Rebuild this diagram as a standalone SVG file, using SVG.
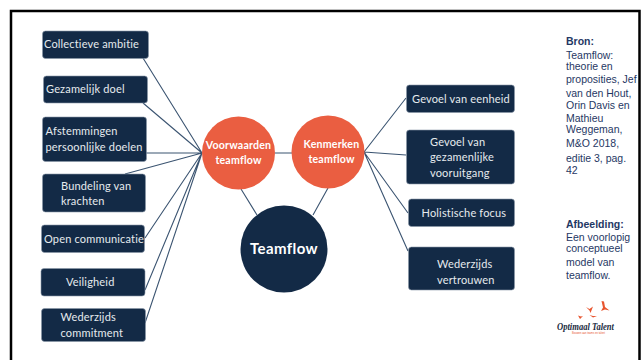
<svg xmlns="http://www.w3.org/2000/svg" width="641" height="360" viewBox="0 0 641 360">
<style>
.box{fill:#132a46;stroke:#8a97a8;stroke-width:.6}
.t{font-family:Lato,"Open Sans",sans-serif;font-size:11px;fill:#e6eaee;letter-spacing:.17px}
.c{font-family:Lato,"Open Sans",sans-serif;font-size:10.6px;font-weight:700;fill:#fff;text-anchor:middle;letter-spacing:.2px}
.l{stroke:#3b5471;stroke-width:1.1;fill:none}
.s{font-family:"Liberation Sans",Arial,sans-serif;font-size:10.500px;fill:#1f3864}
.b{font-weight:700}
</style>
<rect width="641" height="360" fill="#fff"/>
<path d="M11 360V11H639.500V360" fill="none" stroke="#000" stroke-width="2.500"/>
<g id="connectors" class="l">
<path d="M143 58L202 153M143 103L202 153M146 153H202L125 174M145 238L202 153M145 290L202 153M145 323L202 153"/>
<path d="M275 153H292M241 189L257 215M328 188L313 215"/>
<path d="M364 152L406 98M364 152L406 155M364 152L408 213M364 152L408 251"/>
</g>
<g id="n1"><rect class="box" x="42.500" y="31" width="106" height="27.500" rx="3"/><text class="t" x="44" y="48">Collectieve ambitie</text></g>
<g id="n2"><rect class="box" x="43.500" y="76" width="104" height="27" rx="3"/><text class="t" x="46" y="93">Gezamelijk doel</text></g>
<g id="n3"><rect class="box" x="42.500" y="117" width="104" height="44.500" rx="3"/><text class="t" x="45.500" y="135">Afstemmingen</text><text class="t" x="45.500" y="151">persoonlijke doelen</text></g>
<g id="n4"><rect class="box" x="42.500" y="174" width="103" height="38" rx="3"/><text class="t" x="61" y="190">Bundeling van</text><text class="t" x="61" y="205">krachten</text></g>
<g id="n5"><rect class="box" x="41.500" y="225" width="103" height="27.500" rx="3"/><text class="t" x="44" y="243">Open communicatie</text></g>
<g id="n6"><rect class="box" x="41" y="268.500" width="104" height="27.500" rx="3"/><text class="t" x="66" y="286">Veiligheid</text></g>
<g id="n7"><rect class="box" x="41.500" y="308.500" width="104" height="33" rx="3"/><text class="t" x="60.500" y="321">Wederzijds</text><text class="t" x="60.500" y="337">commitment</text></g>
<g id="voorwaarden"><circle cx="238.500" cy="153" r="36.500" fill="#ea5e41"/><text class="c" x="238.500" y="149">Voorwaarden</text><text class="c" x="238.500" y="164">teamflow</text></g>
<g id="kenmerken"><circle cx="328" cy="152" r="36.500" fill="#ea5e41"/><text class="c" x="331.500" y="148">Kenmerken</text><text class="c" x="331.500" y="163">teamflow</text></g>
<g id="teamflow"><circle cx="284" cy="249" r="43.500" fill="#132a46"/><text x="284" y="254" text-anchor="middle" style="font-family:Lato,sans-serif;font-size:15px;font-weight:700;fill:#fff;letter-spacing:.4px">Teamflow</text></g>
<g id="r1"><rect class="box" x="406.500" y="85" width="108" height="27.500" rx="3"/><text class="t" x="412" y="103">Gevoel van eenheid</text></g>
<g id="r2"><rect class="box" x="406.500" y="130" width="108" height="54" rx="3"/><text class="t" x="430" y="146">Gevoel van</text><text class="t" x="430" y="161">gezamenlijke</text><text class="t" x="430" y="177">vooruitgang</text></g>
<g id="r3"><rect class="box" x="408.500" y="199" width="106" height="27.500" rx="3"/><text class="t" x="421.500" y="217">Holistische focus</text></g>
<g id="r4"><rect class="box" x="408.500" y="247" width="106" height="43" rx="3"/><text class="t" x="437" y="268">Wederzijds</text><text class="t" x="437" y="284">vertrouwen</text></g>
<g id="bron"><text class="s b" x="566" y="45">Bron:</text><text class="s"><tspan x="566" y="59">Teamflow:</tspan><tspan x="566" y="70">theorie en</tspan><tspan x="566" y="83">proposities, Jef</tspan><tspan x="566" y="97">van den Hout,</tspan><tspan x="566" y="109">Orin Davis en</tspan><tspan x="566" y="122">Mathieu</tspan><tspan x="566" y="133">Weggeman,</tspan><tspan x="566" y="147">M&amp;O 2018,</tspan><tspan x="566" y="162">editie 3, pag.</tspan><tspan x="566" y="174">42</tspan></text></g>
<g id="afbeelding"><text class="s b" x="566" y="228">Afbeelding:</text><text class="s"><tspan x="566" y="241">Een voorlopig</tspan><tspan x="566" y="252">conceptueel</tspan><tspan x="566" y="266">model van</tspan><tspan x="566" y="279">teamflow.</tspan></text></g>
<g id="logo"><text x="557" y="330" textLength="57" lengthAdjust="spacingAndGlyphs" style="font-family:'Liberation Serif',serif;font-style:italic;font-weight:700;font-size:11px;fill:#1a2a40">Optimaal Talent</text>
<text x="572" y="334" textLength="33" lengthAdjust="spacingAndGlyphs" style="font-family:'Liberation Sans',sans-serif;font-size:3.200px;fill:#e8552f">Bouwen aan teams en talent</text>
<path d="M601.500 301L604 301.500L605 307L609.500 310.500L605 309.500L601 311L603 307.500Z" fill="#e8552f"/>
<path d="M586 307L589.500 309L593 306.500L590.500 313L589.500 310.500Z" fill="#e8552f"/>
<path d="M589.500 315L593 316L597 316L593 317.500Z" fill="#e8552f"/>
<path d="M578 315.500L581 316.500L583 316L580 319Z" fill="#e8552f"/></g>
</svg>
